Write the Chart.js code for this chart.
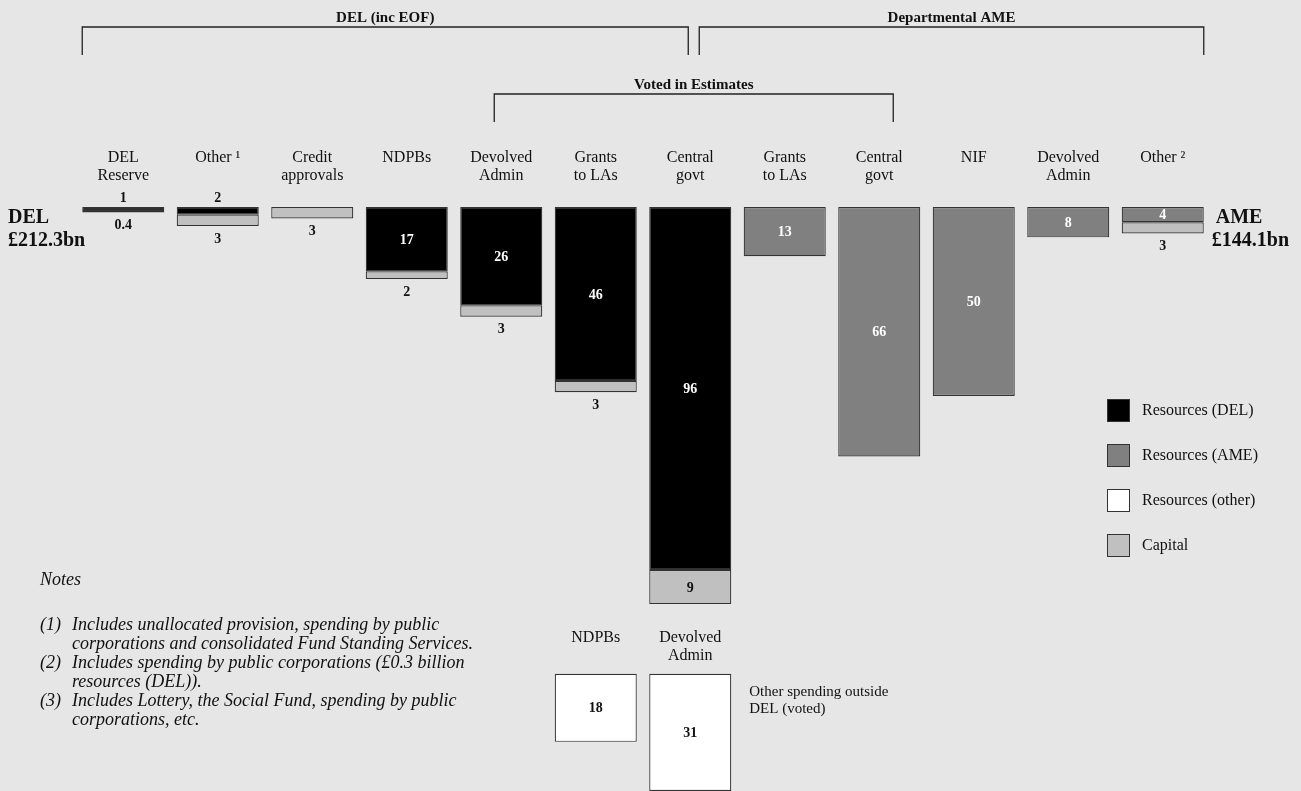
<!DOCTYPE html>
<html>
<head>
<meta charset="utf-8">
<script src="https://cdn.jsdelivr.net/npm/chart.js@4.4.1/dist/chart.umd.min.js"></script>
<style>
  html, body { margin: 0; padding: 0; background: #e6e6e6; }
  #wrap { width: 1301px; height: 791px; position: relative; }
</style>
</head>
<body>
<div id="wrap"><canvas id="spend"></canvas></div>
<script>
// columns across the top, left to right
var columns = [["DEL", "Reserve"], ["Other \u00B9"], ["Credit", "approvals"], ["NDPBs"],
  ["Devolved", "Admin"], ["Grants", "to LAs"], ["Central", "govt"], ["Grants", "to LAs"],
  ["Central", "govt"], ["NIF"], ["Devolved", "Admin"], ["Other \u00B2"]];
// £bn
var resourcesDEL = [1, 2, 0, 17, 26, 46, 96, 0, 0, 0, 0, 0];
var resourcesAME = [0, 0, 0, 0, 0, 0, 0, 13, 66, 50, 8, 4];
var capital = [0.4, 3, 3, 2, 3, 3, 9, 0, 0, 0, 0, 3];
// other spending outside DEL (voted), hung under columns 5 and 6
var otherCols = [5, 6];
var otherNames = [["NDPBs"], ["Devolved", "Admin"]];
var resourcesOther = [18, 31];
var totalDEL = "\u00A3212.3bn";
var totalAME = "\u00A3144.1bn";

var OTHER_TOP = 123.5;   // where the lower boxes start (in £bn below the top line)
var SERIF = "'Liberation Serif', 'Times New Roman', serif";

var zeros = columns.map(function () { return 0; });
function spans(base, vals) {
  return vals.map(function (v, i) { return v > 0 ? [base[i], base[i] + v] : null; });
}
var capBase = columns.map(function (c, i) { return resourcesDEL[i] + resourcesAME[i]; });
var otherData = columns.map(function () { return null; });
var otherVals = columns.map(function () { return 0; });
otherCols.forEach(function (c, k) {
  otherData[c] = [OTHER_TOP, OTHER_TOP + resourcesOther[k]];
  otherVals[c] = resourcesOther[k];
});

var labelPlugin = {
  id: "labels",
  afterDatasetsDraw: function (chart) {
    var ctx = chart.ctx;
    var x = chart.scales.x, y = chart.scales.y;
    ctx.save();
    ctx.textAlign = "center";
    ctx.textBaseline = "middle";

    // value labels: inside the block, or just outside it when the block is too thin
    chart.data.datasets.forEach(function (ds, di) {
      var meta = chart.getDatasetMeta(di);
      meta.data.forEach(function (el, i) {
        if (!ds.data[i]) return;
        var top = Math.min(el.y, el.base), bot = Math.max(el.y, el.base);
        ctx.font = "bold 14px " + SERIF;
        var ty;
        if (bot - top >= 13) {
          ty = (top + bot) / 2;
          ctx.fillStyle = ds.labelColor;
        } else {
          ctx.fillStyle = "#111";
          ty = di === 3 ? y.getPixelForValue(capBase[i] + capital[i]) + 12 : top - 10;
        }
        ctx.fillText(String(ds.values[i]), el.x, ty + 1);
      });
    });

    // column headings
    ctx.fillStyle = "#111";
    ctx.font = "16px " + SERIF;
    columns.forEach(function (lines, i) {
      var cx = x.getPixelForValue(i);
      lines.forEach(function (t, k) { ctx.fillText(t, cx, 158 + k * 18); });
    });
    otherCols.forEach(function (c, k) {
      var cx = x.getPixelForValue(c);
      otherNames[k].forEach(function (t, j) { ctx.fillText(t, cx, 638 + j * 18); });
    });

    // brackets
    var half = chart.getDatasetMeta(0).data[0].width / 2;
    function bracket(x1, x2, yTop, yBot, text) {
      ctx.strokeStyle = "#222";
      ctx.lineWidth = 1.3;
      ctx.beginPath();
      ctx.moveTo(x1, yBot); ctx.lineTo(x1, yTop); ctx.lineTo(x2, yTop); ctx.lineTo(x2, yBot);
      ctx.stroke();
      ctx.font = "bold 15px " + SERIF;
      ctx.fillText(text, (x1 + x2) / 2, yTop - 9);
    }
    bracket(x.getPixelForValue(0) - half, x.getPixelForValue(6) - 2, 27, 55, "DEL (inc EOF)");
    bracket(x.getPixelForValue(6) + 9, x.getPixelForValue(11) + half, 27, 55, "Departmental AME");
    bracket(x.getPixelForValue(4) - 7, x.getPixelForValue(8) + 14, 94, 122, "Voted in Estimates");

    // totals
    ctx.textAlign = "left";
    ctx.font = "bold 20px " + SERIF;
    ctx.fillText("DEL", 8, 218);
    ctx.fillText(totalDEL, 8, 241);
    var rx = x.getPixelForValue(11) + half + 8;
    ctx.fillText("AME", rx + 4, 218);
    ctx.fillText(totalAME, rx, 241);

    // legend
    ctx.font = "16px " + SERIF;
    chart.data.datasets.forEach(function (ds, di) {
      var ly = 399 + di * 45;
      ctx.fillStyle = ds.backgroundColor;
      ctx.fillRect(1107, ly, 23, 23);
      ctx.strokeStyle = "#333";
      ctx.lineWidth = 1;
      ctx.strokeRect(1107.5, ly + 0.5, 22, 22);
      ctx.fillStyle = "#111";
      ctx.fillText(ds.label, 1142, ly + 12);
    });

    // side note for the lower boxes
    ctx.font = "15px " + SERIF;
    ctx.fillText("Other spending outside", x.getPixelForValue(6) + half + 18, 692);
    ctx.fillText("DEL (voted)", x.getPixelForValue(6) + half + 18, 709);

    // notes
    ctx.font = "italic 18px " + SERIF;
    ctx.fillText("Notes", 40, 580);
    var notes = [
      ["(1)", "Includes unallocated provision, spending by public", "corporations and consolidated Fund Standing Services."],
      ["(2)", "Includes spending by public corporations (\u00A30.3 billion", "resources (DEL))."],
      ["(3)", "Includes Lottery, the Social Fund, spending by public", "corporations, etc."]
    ];
    notes.forEach(function (n, k) {
      var ny = 625 + k * 38;
      ctx.fillText(n[0], 40, ny);
      ctx.fillText(n[1], 72, ny);
      ctx.fillText(n[2], 72, ny + 19);
    });
    ctx.restore();
  }
};

new Chart("spend", {
  type: "bar",
  data: {
    labels: columns,
    datasets: [
      { label: "Resources (DEL)", data: spans(zeros, resourcesDEL), values: resourcesDEL, backgroundColor: "#000000", labelColor: "#ffffff" },
      { label: "Resources (AME)", data: spans(zeros, resourcesAME), values: resourcesAME, backgroundColor: "#808080", labelColor: "#ffffff" },
      { label: "Resources (other)", data: otherData, values: otherVals, backgroundColor: "#ffffff", labelColor: "#111111" },
      { label: "Capital", data: spans(capBase, capital), values: capital, backgroundColor: "#c0c0c0", labelColor: "#111111" }
    ]
  },
  options: {
    responsive: true,
    maintainAspectRatio: false,
    animation: false,
    layout: { padding: { left: 76, right: 91, top: 0, bottom: 0 } },
    datasets: {
      bar: {
        grouped: false,
        barPercentage: 1,
        categoryPercentage: 0.868,
        borderColor: "#333333",
        borderWidth: 1.2,
        borderSkipped: false
      }
    },
    scales: {
      x: { display: false },
      y: { display: false, reverse: true, min: -54.8, max: 154.5 }
    },
    plugins: {
      legend: { display: false },
      tooltip: { enabled: false }
    }
  },
  plugins: [labelPlugin]
});
</script>
</body>
</html>
